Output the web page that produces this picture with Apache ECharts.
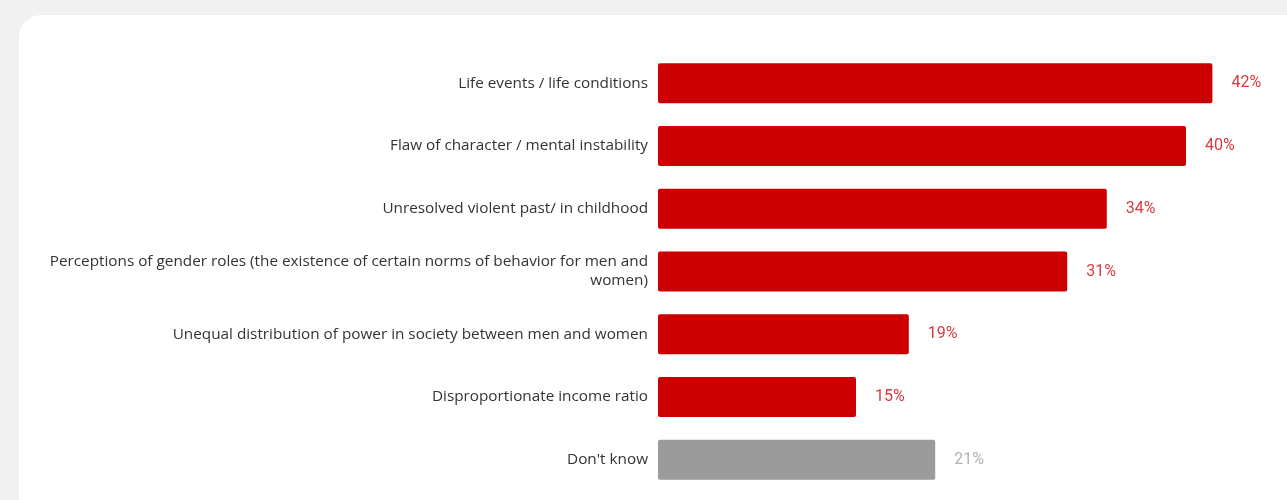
<!DOCTYPE html>
<html>
<head>
<meta charset="utf-8">
<style>
  html, body { margin: 0; padding: 0; background: #f1f1f1; }
  #chart { width: 1287px; height: 500px; }
</style>
<script src="https://cdn.jsdelivr.net/npm/echarts@6/dist/echarts.min.js"></script>
</head>
<body>
<div id="chart"></div>
<script>
// Perceived causes, share of respondents (%)
const categories = [
  'Life events / life conditions',
  'Flaw of character / mental instability',
  'Unresolved violent past/ in childhood',
  'Perceptions of gender roles (the existence of certain norms of behavior for men and\nwomen)',
  'Unequal distribution of power in society between men and women',
  'Disproportionate income ratio',
  "Don't know"
];
const values = [42, 40, 34, 31, 19, 15, 21];
const neutralCategory = "Don't know";

const RED = '#cc0000';
const RED_LABEL = '#d83a3f';
const GREY = '#9b9b9b';
const GREY_LABEL = '#b3b3b3';

const chart = echarts.init(document.getElementById('chart'));

const seriesData = categories.map((c, i) => {
  const neutral = c === neutralCategory;
  return {
    value: values[i],
    itemStyle: { color: neutral ? GREY : RED },
    label: { color: neutral ? GREY_LABEL : RED_LABEL }
  };
});

chart.setOption({
  backgroundColor: '#f1f1f1',
  animation: false,
  graphic: [{
    type: 'rect',
    z: -10,
    shape: { x: 19, y: 15, width: 1320, height: 540, r: 22 },
    style: { fill: '#ffffff' }
  }],
  grid: { left: 658, top: 52, width: 594, height: 439 },
  xAxis: {
    type: 'value',
    min: 0,
    max: 45,
    show: false
  },
  yAxis: {
    type: 'category',
    inverse: true,
    data: categories,
    axisLine: { show: false },
    axisTick: { show: false },
    axisLabel: {
      margin: 10,
      color: '#333333',
      fontFamily: 'Open Sans',
      fontSize: 15.3,
      lineHeight: 19,
      align: 'right'
    }
  },
  series: [{
    type: 'bar',
    data: seriesData,
    barWidth: 40,
    itemStyle: { borderRadius: 2 },
    label: {
      show: true,
      position: 'right',
      distance: 19,
      fontFamily: 'Roboto',
      fontSize: 16,
      formatter: p => p.value + '%'
    }
  }]
});
</script>
</body>
</html>
